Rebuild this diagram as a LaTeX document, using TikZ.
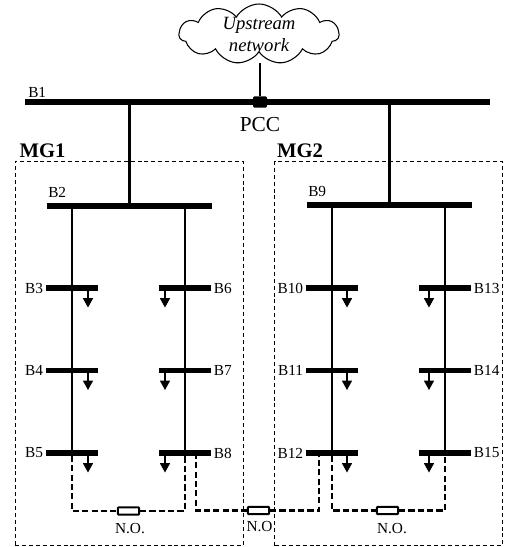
\documentclass[tikz,border=0pt]{standalone}
\usepackage{fontspec}
\setmainfont{Liberation Serif}
\usetikzlibrary{calc,arrows.meta,positioning,shapes.symbols}

\begin{document}
\begin{tikzpicture}[x=0.75pt,y=-0.75pt,
    busbar/.style={fill=black, inner sep=0pt, minimum height=4pt},
    feeder/.style={line width=1.6pt},
    tie/.style={line width=1.6pt, dash pattern=on 4.6pt off 2.4pt},
    load/.style={line width=0.9pt, -{Triangle[width=7.5pt,length=7pt]}},
    switchbox/.style={draw, line width=1.4pt, fill=white, rounded corners=0.5pt, minimum width=16pt, minimum height=5.5pt, inner sep=0pt},
    zone/.style={draw, line width=0.6pt, dash pattern=on 3pt off 2.2pt},
    lbl/.style={font=\fontsize{11.5}{12}\selectfont, inner sep=0pt}]
    \useasboundingbox (0,0) rectangle (507,547);

    % microgrid boundaries
    \node[zone, minimum width=171pt, minimum height=288.5pt, inner sep=0pt] (zone1) at (129,353.5) {};
    \node[zone, minimum width=170.5pt, minimum height=288.5pt, inner sep=0pt] (zone2) at (388.5,353.5) {};
    \node[font=\bfseries\fontsize{15.5}{16}\selectfont, inner sep=0pt] (mg1) at (42.5,151) {MG1};
    \node[font=\bfseries\fontsize{15.5}{16}\selectfont, inner sep=0pt] (mg2) at (300,151) {MG2};

    % main buses
    \node[busbar, minimum width=349pt, minimum height=4.5pt] (b1) at (257.5,102) {};
    \node[busbar, minimum width=124pt] (b2) at (129.5,206) {};
    \node[busbar, minimum width=124pt] (b9) at (389.5,205) {};
    \node[lbl, anchor=west] (lb1) at (28,92) {B1};
    \node[lbl, anchor=west] (lb2) at (48,192) {B2};
    \node[lbl, anchor=west] (lb9) at (308,191) {B9};

    % upstream network and common coupling point
    \node[cloud, draw, line width=0.8pt, cloud puffs=11, cloud puff arc=120, aspect=2.7, minimum width=120pt, minimum height=45pt, inner sep=-6pt, align=center, font=\itshape\fontsize{14}{16.5}\selectfont] (grid) at (259,34) {Upstream\\network};
    \node[fill=black, rounded corners=1pt, minimum width=10.5pt, minimum height=8.5pt, inner sep=0pt] (pcc) at (260,102) {};
    \coordinate (gridfoot) at (260,63);
    \draw[feeder] (gridfoot) -- (pcc);
    \node[font=\fontsize{16}{17}\selectfont, inner sep=0pt] (lpcc) at (260,125) {PCC};

    % lines down from the main bus
    \draw[feeder] (b2 |- b1) -- (b2.center);
    \draw[feeder] (b9 |- b1) -- (b9.center);

    % load buses, one column at a time
    \foreach \x/\dx/\side/\names in {72/16/left/{3,4,5}, 185/-20/right/{6,7,8}, 332/15/left/{10,11,12}, 445/-16/right/{13,14,15}} {
        \foreach \n [count=\k from 0] in \names {
            \node[busbar, minimum width=38.5pt] (b\n) at (\x,288+\k*82.5) {};
            \node[lbl, \side=2pt of b\n] (lb\n) {B\n};
            \coordinate (d\n) at ($(b\n)+(\dx,0)$);
            \coordinate (e\n) at ($(b\n)+(\dx,19.5)$);
            \draw[load] (d\n) -- (e\n);
        }
    }

    % feeders
    \draw[feeder] (b3 |- b2) -- (b5.center);
    \draw[feeder] (b6 |- b2) -- (b8.center);
    \draw[feeder] (b10 |- b9) -- (b12.center);
    \draw[feeder] (b13 |- b9) -- (b15.center);

    % normally open ties
    \node[switchbox] (s1) at (128.5,511) {};
    \node[switchbox] (s2) at (258.5,510.5) {};
    \node[switchbox] (s3) at (387.5,510.5) {};
    \coordinate (t8) at (196,453);
    \coordinate (t12) at (319,453);
    \draw[tie] (b5) |- (s1);
    \draw[tie] (s1) -| (b8);
    \draw[tie] (t8) |- (s2);
    \draw[tie] (s2) -| (t12);
    \draw[tie] (b12) |- (s3);
    \draw[tie] (s3) -| (b15);
    \node[lbl] (no1) at (130,529) {N.O.};
    \node[lbl] (no2) at (259.5,527) {N.O};
    \node[lbl] (no3) at (392,529) {N.O.};
\end{tikzpicture}
\end{document}
